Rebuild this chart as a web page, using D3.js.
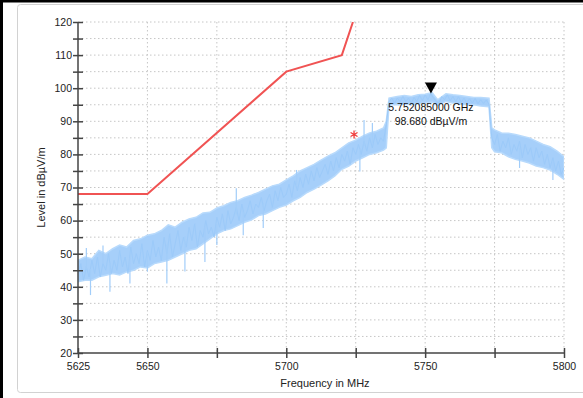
<!DOCTYPE html>
<meta charset="utf-8">
<style>
body { margin: 0; background: #fff; }
svg { font-family: "Liberation Sans", Arial, sans-serif; display: block; }
.grid line { stroke: #c6c6c6; stroke-dasharray: 1.5,2.5; }
.axis path, .axis line { stroke: #444; stroke-width: 1.5; }
.axis text { fill: #222; font-size: 10.5px; }
</style>
<body>
<script src="https://cdn.jsdelivr.net/npm/d3@7"></script>
<script>

// limit line (MHz, dBµV/m)
var limitFreq  = [5625, 5650, 5700, 5720, 5724];
var limitLevel = [68,   68,   105,  110,  120];

// measured trace, read as an envelope (upper / lower edge of the noise band)
var bandFreq = [5625, 5627.5, 5630, 5632.5, 5635, 5637.5, 5640, 5642.5, 5645, 5647.5,
  5650, 5652.5, 5655, 5657.5, 5660, 5662.5, 5665, 5667.5, 5670, 5672.5,
  5675, 5677.5, 5680, 5682.5, 5685, 5687.5, 5690, 5692.5, 5695, 5697.5,
  5700, 5702.5, 5705, 5707.5, 5710, 5712.5, 5715, 5717.5, 5720, 5722.5,
  5725, 5727.5, 5730, 5732.5, 5735, 5736, 5737, 5740, 5742.5, 5745,
  5747.5, 5750, 5752.5, 5754.5, 5757.5, 5760, 5762.5, 5765, 5767.5, 5770,
  5773, 5774, 5775, 5777.5, 5780, 5782.5, 5785, 5787.5, 5790, 5792.5,
  5795, 5797.5, 5800];
var bandHigh = [48, 49, 48.5, 51, 50, 51.5, 52.6, 52, 54, 54.5,
  55.6, 56, 57, 58.7, 58, 59.5, 60.5, 61, 62.3, 62.5,
  63.8, 64.5, 65.5, 66, 67, 67.7, 68.5, 69.5, 70.5, 71,
  72.3, 73.5, 75, 76, 77, 78.3, 79.5, 80.5, 82, 83.5,
  84.3, 85.5, 86.5, 87, 88, 90, 97, 97.5, 97.8, 97.5,
  98, 98.2, 98.7, 96.5, 98.3, 98, 97.8, 97.5, 97.2, 97.2,
  97, 88, 87.4, 86.5, 86.4, 86, 85.5, 85, 84, 83,
  82.3, 81, 79.3];
var bandLow = [41.5, 42, 42, 43, 43.5, 44, 43.6, 44.5, 45, 46,
  45.7, 47, 47.5, 48, 49, 50, 51, 51.5, 53, 54.5,
  56, 57, 57.5, 58.5, 59.5, 60.2, 61.5, 62, 63, 64,
  64.7, 66, 67, 68.5, 69.5, 70.7, 72, 73.5, 75.5, 76.5,
  78, 79, 80, 80.5, 81.3, 82, 95, 95, 95.2, 95,
  95.3, 95.5, 95.8, 94.8, 96, 95.5, 95.2, 95, 95, 94.6,
  94.4, 82, 80.8, 80.5, 79.3, 78.5, 78, 77.4, 76.5, 76,
  75.3, 74, 72.5];

// the trace itself, one reading per MHz from 5625 to 5800
var traceStart = 5625;
var traceLevel = [
  44, 47, 42, 46, 43,   48, 44, 49, 43, 47,   45, 50, 44, 48, 45,   51, 46, 49, 44, 52,
  47, 50, 47, 53, 46,   51, 48, 54, 49, 52,   48, 55, 50, 56, 49,   53, 57, 51, 55, 52,
  58, 54, 59, 52, 57,   55, 60, 56, 58, 55,   61, 58, 62, 57, 63,   59, 61, 64, 60, 65,
  61, 63, 66, 62, 65,   64, 67, 63, 66, 68,   64, 69, 66, 70, 67,   68, 71, 67, 72, 69,
  73, 70, 74, 71, 75,   72, 76, 73, 75, 77,   74, 78, 75, 79, 76,   80, 78, 81, 77, 82,
  80, 83, 80, 84, 81,   85, 82, 86, 83, 85,   84, 89, 96, 97, 95.5, 97, 96, 97.5, 96, 97,
  95.5, 97.2, 96, 97.8, 96.3,  98, 96.5, 98.4, 97, 96,  95.5, 97.5, 96.5, 98, 96.2,
  97.5, 96, 97.4, 95.8, 97,  95.6, 96.8, 95.5, 96.9, 95.3,  96.5, 95.4, 96.4, 95.2, 85,
  83, 86, 81, 84, 82,   85, 80, 83, 81, 84,   79, 83, 80, 82, 78,   82, 79, 81, 77, 80,
  76, 79, 75, 78, 74,   76];

// single spikes of the trace that stick out of the band
var spikeFreq  = [5628, 5629.5, 5634, 5636.5, 5643.7, 5650, 5657, 5663.5, 5670.7, 5675,
  5682, 5684.5, 5691.7, 5703.7, 5726.5, 5728, 5731, 5784, 5796];
var spikeLevel = [51.7, 37.5, 52.5, 38.5, 41, 44.6, 41, 44.6, 47.5, 52.6,
  69.8, 55.6, 57.8, 75.3, 74.8, 90.4, 89.5, 75.9, 72.3];

// marker
var markerFreq = 5752.085, markerLevel = 98.68;
var markerText = ["5.752085000 GHz", "98.680 dBµV/m"];
var peakFreq = 5724.4, peakLevel = 86;

var xTicks = d3.range(5625, 5801, 25);
var xLabels = [5625, 5650, 5700, 5750, 5800];
var yTicks = d3.range(20, 121, 5);

var W = 583, H = 398;
var margin = {top: 22, right: 19, bottom: 45, left: 78},
    width = W - margin.left - margin.right,
    height = H - margin.top - margin.bottom;

var svg = d3.select("body").append("svg")
    .attr("width", W).attr("height", H);

// frame
svg.append("rect").attr("x", 17.5).attr("y", 4.5).attr("width", 600).attr("height", 388)
    .attr("fill", "#fff").attr("stroke", "#d2d2d2").attr("rx", 3);
svg.append("line").attr("x1", 0).attr("x2", W).attr("y1", 1).attr("y2", 1)
    .attr("stroke", "#000").attr("stroke-width", 3);
svg.append("line").attr("x1", 1.5).attr("x2", 1.5).attr("y1", 0).attr("y2", H)
    .attr("stroke", "#000").attr("stroke-width", 3);

var g = svg.append("g")
    .attr("transform", "translate(" + margin.left + "," + margin.top + ")");

var x = d3.scaleLinear().domain([5625, 5800]).range([0, width]);
var y = d3.scaleLinear().domain([20, 120]).range([height, 0]);

g.append("clipPath").attr("id", "clip")
  .append("rect").attr("width", width).attr("height", height);

// grid
var grid = g.append("g").attr("class", "grid");
grid.selectAll(".h").data(yTicks.filter(function(d){ return d > 20; })).enter().append("line")
    .attr("x1", 0).attr("x2", width)
    .attr("y1", function(d){ return y(d); }).attr("y2", function(d){ return y(d); });
grid.selectAll(".v").data(xTicks.slice(1)).enter().append("line")
    .attr("y1", 0).attr("y2", height)
    .attr("x1", function(d){ return x(d); }).attr("x2", function(d){ return x(d); });

var plot = g.append("g").attr("clip-path", "url(#clip)");

// trace band
var band = bandFreq.map(function(f, i){ return {f: f, hi: bandHigh[i], lo: bandLow[i]}; });
plot.append("path")
    .datum(band)
    .attr("fill", "#a6cffa")
    .attr("stroke", "#b8dafc")
    .attr("stroke-width", 1.5)
    .attr("d", d3.area()
        .x(function(d){ return x(d.f); })
        .y0(function(d){ return y(d.lo); })
        .y1(function(d){ return y(d.hi); }));

// trace line
plot.append("path")
    .datum(traceLevel)
    .attr("fill", "none")
    .attr("stroke", "#9ccaf9")
    .attr("stroke-width", 1)
    .attr("d", d3.line()
        .x(function(d, i){ return x(traceStart + i); })
        .y(function(d){ return y(d); }));

// spikes, drawn from the band middle they leave
var bandMid = function(f){
  var i = d3.bisectLeft(bandFreq, f);
  i = Math.min(Math.max(i, 1), bandFreq.length - 1);
  return (bandHigh[i] + bandLow[i] + bandHigh[i-1] + bandLow[i-1]) / 4;
};
plot.selectAll(".spike").data(spikeFreq).enter().append("line")
    .attr("stroke", "#a2cdf9").attr("stroke-width", 1.2)
    .attr("x1", function(d){ return x(d); }).attr("x2", function(d){ return x(d); })
    .attr("y1", function(d){ return y(bandMid(d)); })
    .attr("y2", function(d, i){ return y(spikeLevel[i]); });

// limit line
var limit = limitFreq.map(function(f, i){ return {f: f, v: limitLevel[i]}; });
plot.append("path")
    .datum(limit)
    .attr("fill", "none")
    .attr("stroke", "#f05353")
    .attr("stroke-width", 2)
    .attr("d", d3.line()
        .x(function(d){ return x(d.f); })
        .y(function(d){ return y(d.v); }));

// peak asterisk
g.append("path")
    .attr("d", d3.symbol(d3.symbolAsterisk, 45)())
    .attr("transform", "translate(" + x(peakFreq) + "," + y(peakLevel) + ")")
    .attr("fill", "none").attr("stroke", "#f03c3c").attr("stroke-width", 1.3);

// axes
var yAxis = g.append("g").attr("class", "axis")
    .call(d3.axisLeft(y).tickValues(yTicks).tickSizeOuter(0).tickSize(5).tickPadding(1)
        .tickFormat(function(d){ return d % 10 === 0 ? d : ""; }));
yAxis.selectAll(".tick line").attr("x1", 5);

var xAxis = g.append("g").attr("class", "axis")
    .attr("transform", "translate(0," + height + ")")
    .call(d3.axisBottom(x).tickValues(xTicks).tickSizeOuter(0).tickSize(5).tickPadding(5)
        .tickFormat(function(d){ return xLabels.indexOf(d) >= 0 ? d : ""; }));
xAxis.selectAll(".tick line").attr("y1", -5);
xAxis.select(".domain").attr("d", "M0,0H" + width);
yAxis.select(".domain").attr("d", "M0,0V" + height);

// marker
var mx = x(markerFreq), my = y(markerLevel) + 1;
g.append("path")
    .attr("d", "M" + (mx - 6) + "," + (my - 11) + "L" + (mx + 6) + "," + (my - 11) + "L" + mx + "," + my + "Z")
    .attr("fill", "#000");
g.selectAll(".mtext").data(markerText).enter().append("text")
    .attr("x", mx)
    .attr("y", function(d, i){ return my + 17 + i * 14; })
    .attr("text-anchor", "middle")
    .attr("font-size", "10.5px")
    .attr("fill", "#111")
    .text(function(d){ return d; });

// axis titles
svg.append("text")
    .attr("x", 325).attr("y", 387)
    .attr("text-anchor", "middle").attr("font-size", "11px").attr("fill", "#222")
    .text("Frequency in MHz");
svg.append("text")
    .attr("transform", "translate(45," + (margin.top + height / 2) + ") rotate(-90)")
    .attr("text-anchor", "middle").attr("font-size", "11px").attr("fill", "#222")
    .text("Level in dBµV/m");

</script>
</body>
